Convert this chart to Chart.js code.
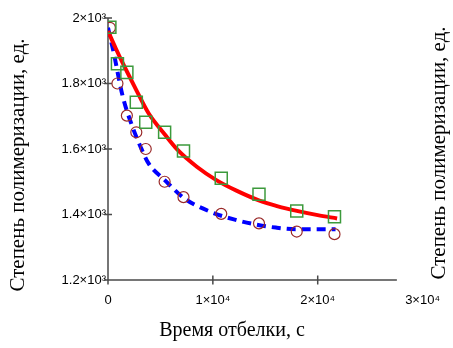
<!DOCTYPE html>
<html>
<head>
<meta charset="utf-8">
<script src="https://cdn.jsdelivr.net/npm/chart.js@4/dist/chart.umd.min.js"></script>
<style>
html,body{margin:0;padding:0;background:#fff;}
#wrap{width:453px;height:348px;}
</style>
</head>
<body>
<div id="wrap"><canvas id="c" width="453" height="348"></canvas></div>
<script>
// Measured points (time, s)
const time = [180, 900, 1800, 2700, 3600, 5400, 7200, 10800, 14400, 18000, 21600];
const dpSquares = [1972, 1860, 1834, 1743, 1682, 1651, 1594, 1511, 1462, 1411, 1393];
const dpCircles = [1970, 1800, 1702, 1651, 1600, 1500, 1453, 1402, 1373, 1348, 1340];

// Fitted curves
const redT = [0, 700, 1410, 2700, 3870, 5400, 6640, 8500, 10330, 12300, 14320, 16200, 18010, 20000, 21850];
const redY = [1960, 1910, 1862, 1780, 1709, 1645, 1597, 1545, 1505, 1472, 1444, 1425, 1411, 1398, 1388];
const blueT = [0, 490, 1410, 2330, 3100, 3870, 5410, 7250, 9710, 12000, 14320, 16000, 18010, 20000, 21700];
const blueY = [1970, 1902, 1760, 1668, 1607, 1556, 1505, 1450, 1409, 1385, 1368, 1360, 1355, 1355, 1355];

// Axis ticks
const xTicks = [0, 10000, 20000, 30000];
const yTicks = [1200, 1400, 1600, 1800, 2000];
const xAxisLineEnd = 27550;

const xTitle = 'Время отбелки, с';
const yTitle = 'Степень полимеризации, ед.';

const pts = (xs, ys) => xs.map((x, i) => ({x: x, y: ys[i]}));

const tickFont = {family: "'Liberation Sans',Arial,sans-serif", size: 13};
const serif = "'Liberation Serif','Times New Roman',serif";

const axesPlugin = {
  id: 'axesPlugin',
  beforeDatasetsDraw(chart) {
    const ctx = chart.ctx;
    const xs = chart.scales.x, ys = chart.scales.y;
    const x0 = xs.getPixelForValue(0);
    const y0 = ys.getPixelForValue(1200);
    ctx.save();
    ctx.strokeStyle = '#4a4a4a';
    ctx.lineWidth = 1.5;
    ctx.beginPath();
    ctx.moveTo(x0, ys.getPixelForValue(2000));
    ctx.lineTo(x0, y0);
    ctx.moveTo(x0, y0);
    ctx.lineTo(xs.getPixelForValue(xAxisLineEnd), y0);
    yTicks.forEach(v => {
      const p = ys.getPixelForValue(v);
      ctx.moveTo(x0 - 4, p); ctx.lineTo(x0 + 4, p);
    });
    xTicks.slice(0, 3).forEach(v => {
      const p = xs.getPixelForValue(v);
      ctx.moveTo(p, y0 - 4.5); ctx.lineTo(p, y0 + 4.5);
    });
    ctx.stroke();
    ctx.restore();
  },
  afterDraw(chart) {
    const ctx = chart.ctx;
    ctx.save();
    ctx.fillStyle = '#000';
    ctx.textAlign = 'center';
    ctx.textBaseline = 'middle';
    ctx.font = '20px ' + serif;
    ctx.fillText(xTitle, 232, 331);
    ctx.font = '21px ' + serif;
    [[18, 165], [439, 153]].forEach(([x, y]) => {
      ctx.save();
      ctx.translate(x, y);
      ctx.rotate(-Math.PI / 2);
      ctx.fillText(yTitle, 0, 0);
      ctx.restore();
    });
    ctx.restore();
  }
};

new Chart(document.getElementById('c'), {
  type: 'scatter',
  data: {
    datasets: [
      {
        label: 'squares', data: pts(time, dpSquares), showLine: false,
        pointStyle: 'rect', pointRadius: 8.5, borderColor: '#3c9a3c', backgroundColor: 'rgba(0,0,0,0)',
        pointBorderWidth: 1.5, order: 1
      },
      {
        label: 'circles', data: pts(time, dpCircles), showLine: false,
        pointStyle: 'circle', pointRadius: 5.5, borderColor: '#9a2a2a', backgroundColor: 'rgba(0,0,0,0)',
        pointBorderWidth: 1.2, order: 2
      },
      {
        label: 'red', data: pts(redT, redY), showLine: true, pointRadius: 0,
        borderColor: '#ff0000', borderWidth: 4, cubicInterpolationMode: 'monotone', order: 3
      },
      {
        label: 'blue', data: pts(blueT, blueY), showLine: true, pointRadius: 0,
        borderColor: '#0000ff', borderWidth: 4, borderDash: [9, 6], cubicInterpolationMode: 'monotone', order: 4
      }
    ]
  },
  options: {
    responsive: false,
    animation: false,
    devicePixelRatio: 1,
    layout: {padding: {top: 18, left: 0, right: 0, bottom: 0}},
    plugins: {legend: {display: false}, tooltip: {enabled: false}},
    scales: {
      x: {
        type: 'linear', min: 0, max: 30000,
        afterBuildTicks: s => { s.ticks = xTicks.map(v => ({value: v})); },
        afterFit: s => { s.height = 68; },
        grid: {display: false, drawTicks: false},
        border: {display: false},
        ticks: {
          padding: 13, color: '#000', font: tickFont, maxRotation: 0, autoSkip: false,
          callback: v => v === 0 ? '0' : (v / 10000) + '×10⁴'
        },
        title: {display: false}
      },
      y: {
        type: 'linear', min: 1200, max: 2000, position: 'left',
        afterBuildTicks: s => { s.ticks = yTicks.map(v => ({value: v})); },
        afterFit: s => { s.width = 108; },
        grid: {display: false, drawTicks: false},
        border: {display: false},
        ticks: {
          padding: 2, color: '#000', font: tickFont, autoSkip: false,
          callback: v => (v / 1000) + '×10³'
        },
        title: {display: false}
      },
      y2: {
        type: 'linear', min: 1200, max: 2000, position: 'right',
        afterFit: s => { s.width = 19.5; },
        grid: {display: false, drawTicks: false},
        border: {display: false},
        ticks: {display: false},
        title: {display: false}
      }
    }
  },
  plugins: [axesPlugin]
});
</script>
</body>
</html>
